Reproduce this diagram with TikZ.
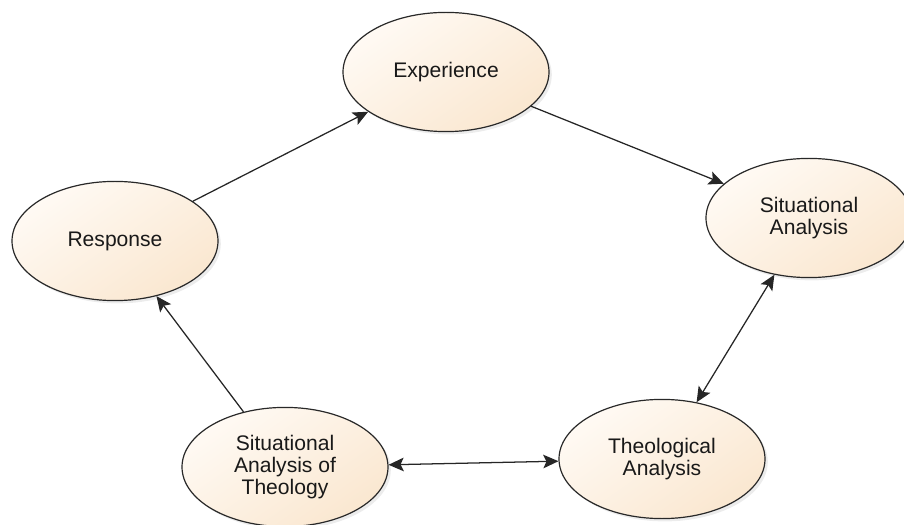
\documentclass[tikz,border=0pt]{standalone}
\usepackage{fontspec}
\setmainfont{Liberation Sans}
\usetikzlibrary{shapes.geometric, arrows.meta, shadows}

\definecolor{peachlight}{RGB}{255,250,244}
\definecolor{peachdark}{RGB}{250,231,208}
\definecolor{rimgray}{RGB}{40,40,40}

\begin{document}
\begin{tikzpicture}[
		every node/.style={ellipse, draw=rimgray, line width=0.85pt,
			minimum width=5.15cm, minimum height=2.98cm, inner sep=0pt,
			top color=peachlight, bottom color=peachdark, shading angle=35,
			drop shadow={shadow xshift=0.07cm, shadow yshift=-0.07cm, opacity=0.15},
			align=center, text=black!90, font=\fontsize{15}{15.6}\selectfont},
		link/.style={line width=0.9pt, draw=black!85, -{Stealth[length=0.38cm, width=0.34cm, inset=0.08cm]}},
		twoway/.style={link, {Stealth[length=0.38cm, width=0.34cm, inset=0.08cm]}-{Stealth[length=0.38cm, width=0.34cm, inset=0.08cm]}}
	]
  \useasboundingbox (0cm, 0cm) rectangle (22.6cm, 13.1cm);
  \node (experience) at (11.15cm, 11.3cm) {Experience};
  \node (response) at (2.875cm, 7.075cm) {Response};
  \node (sit_an) at (20.225cm, 7.65cm) {Situational\\Analysis};
  \node (theo_an) at (16.55cm, 1.625cm) {Theological\\Analysis};
  \node (sit_an_theo) at (7.125cm, 1.425cm) {Situational\\Analysis of\\Theology};
  \draw (response) edge [link] (experience);
  \draw (experience) edge [link] (sit_an);
  \draw (sit_an_theo) edge [link] (response);
  \draw (theo_an) edge [twoway] (sit_an);
  \draw (sit_an_theo) edge [twoway] (theo_an);
\end{tikzpicture}
\end{document}
